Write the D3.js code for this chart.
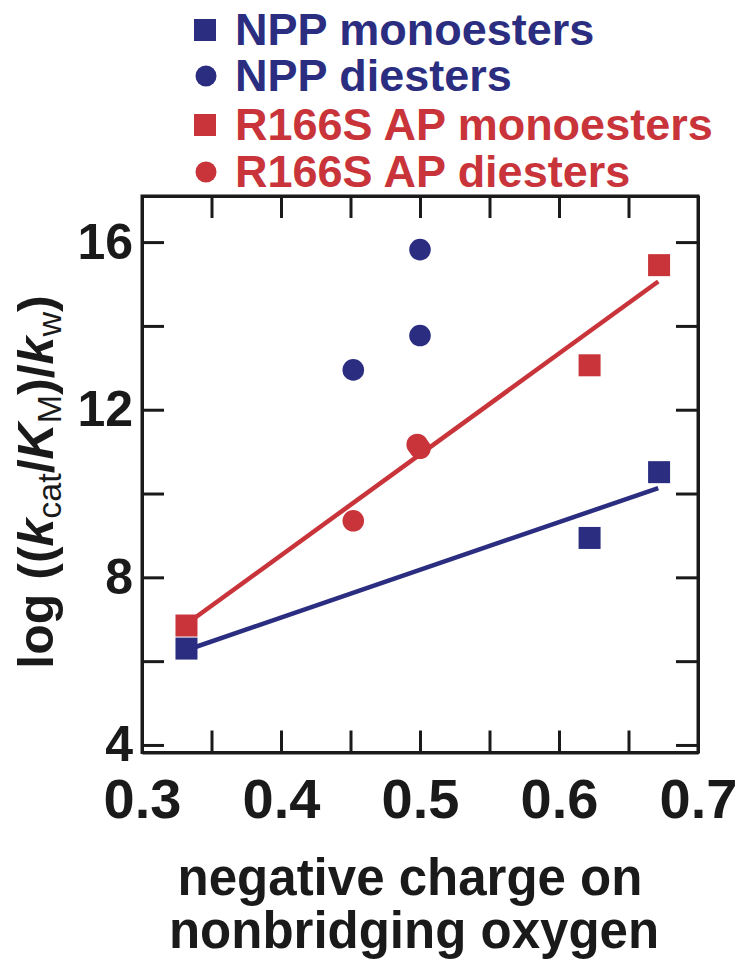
<!DOCTYPE html>
<html>
<head>
<meta charset="utf-8">
<script src="https://cdn.jsdelivr.net/npm/d3@7"></script>
<style>
  html, body { margin: 0; padding: 0; background: #fff; }
  svg { display: block; font-family: "Liberation Sans", Arial, Helvetica, sans-serif; }
</style>
</head>
<body>
<svg id="chart" width="750" height="966"></svg>
<script>
// ---- data ----
const nppMonoX = [0.332, 0.622, 0.672];
const nppMonoY = [6.30, 8.94, 10.51];
const nppDiX = [0.452, 0.5, 0.5];
const nppDiY = [12.95, 13.77, 15.82];
const apMonoX = [0.332, 0.622, 0.672];
const apMonoY = [6.85, 13.06, 15.45];
const apDiX = [0.452, 0.5, 0.498];
const apDiY = [9.35, 11.08, 11.17];
const fitX = [0.3317, 0.6714];
const nppFitY = [6.26, 10.13];
const apFitY = [6.88, 15.06];
const xTicks = [0.3, 0.35, 0.4, 0.45, 0.5, 0.55, 0.6, 0.65, 0.7];
const xLabels = ["0.3", "", "0.4", "", "0.5", "", "0.6", "", "0.7"];
const yTicks = [4, 6, 8, 10, 12, 14, 16];
const yLabels = ["4", "", "8", "", "12", "", "16"];
const legendNames = ["NPP monoesters", "NPP diesters", "R166S AP monoesters", "R166S AP diesters"];
const legendShapes = ["square", "circle", "square", "circle"];
const legendColors = ["blue", "blue", "red", "red"];

const COLORS = { blue: "#2b2e80", red: "#c8343a" };

const svg = d3.select("#chart");
const L = 142, R = 698, T = 196, B = 752.5;
const x = d3.scaleLinear().domain([0.3, 0.7]).range([L, R]);
const y = d3.scaleLinear().domain([3.82, 17.1]).range([B, T]);

const TICK = 22, AXW = 3;

function styleAxis(g) {
  g.selectAll(".domain").attr("stroke", "#1a1a1a").attr("stroke-width", AXW);
  g.selectAll(".tick line").attr("stroke", "#1a1a1a").attr("stroke-width", 3);
}

// bottom
const gB = svg.append("g").attr("transform", `translate(0,${B})`)
  .call(d3.axisBottom(x).tickValues(xTicks).tickSizeInner(-TICK).tickSizeOuter(0).tickPadding(26)
    .tickFormat((d, i) => xLabels[i]));
styleAxis(gB);
gB.selectAll(".tick text").attr("fill", "#1a1a1a").attr("font-size", 56).attr("font-weight", "bold")
  .attr("font-family", "Liberation Sans, Arial, sans-serif");
// top
const gT = svg.append("g").attr("transform", `translate(0,${T})`)
  .call(d3.axisTop(x).tickValues(xTicks).tickSizeInner(-TICK).tickSizeOuter(0).tickFormat(""));
styleAxis(gT);
// left
const gL = svg.append("g").attr("transform", `translate(${L},0)`)
  .call(d3.axisLeft(y).tickValues(yTicks).tickSizeInner(-TICK).tickSizeOuter(0).tickPadding(9)
    .tickFormat((d, i) => yLabels[i]));
styleAxis(gL);
gL.selectAll(".tick text").attr("fill", "#1a1a1a").attr("font-size", 50).attr("font-weight", "bold")
  .attr("font-family", "Liberation Sans, Arial, sans-serif");
// right
const gR = svg.append("g").attr("transform", `translate(${R},0)`)
  .call(d3.axisRight(y).tickValues(yTicks).tickSizeInner(-TICK).tickSizeOuter(0).tickFormat(""));
styleAxis(gR);
// closed box
svg.append("rect").attr("x", L).attr("y", T).attr("width", R - L).attr("height", B - T)
  .attr("fill", "none").attr("stroke", "#1a1a1a").attr("stroke-width", AXW);

// fit lines
const line = d3.line().x(d => x(d[0])).y(d => y(d[1]));
svg.append("path").datum(fitX.map((v, i) => [v, nppFitY[i]])).attr("d", line)
  .attr("stroke", COLORS.blue).attr("stroke-width", 4.5).attr("fill", "none");
svg.append("path").datum(fitX.map((v, i) => [v, apFitY[i]])).attr("d", line)
  .attr("stroke", COLORS.red).attr("stroke-width", 4.5).attr("fill", "none");

const SQ = 22, RAD = 10.8;
function squares(xs, ys, c) {
  svg.append("g").selectAll("rect").data(xs.map((v, i) => [v, ys[i]])).join("rect")
    .attr("x", d => x(d[0]) - SQ / 2).attr("y", d => y(d[1]) - SQ / 2)
    .attr("width", SQ).attr("height", SQ).attr("fill", c);
}
function circles(xs, ys, c) {
  svg.append("g").selectAll("circle").data(xs.map((v, i) => [v, ys[i]])).join("circle")
    .attr("cx", d => x(d[0])).attr("cy", d => y(d[1])).attr("r", RAD).attr("fill", c);
}
squares(nppMonoX, nppMonoY, COLORS.blue);
circles(nppDiX, nppDiY, COLORS.blue);
squares(apMonoX, apMonoY, COLORS.red);
circles(apDiX, apDiY, COLORS.red);

// legend
const legY = [30, 76, 125, 172];
const legend = svg.append("g");
legendNames.forEach((name, i) => {
  const c = COLORS[legendColors[i]];
  if (legendShapes[i] === "square") {
    legend.append("rect").attr("x", 205 - 11).attr("y", legY[i] - 11).attr("width", 22).attr("height", 22).attr("fill", c);
  } else {
    legend.append("circle").attr("cx", 206).attr("cy", legY[i]).attr("r", 10.5).attr("fill", c);
  }
  legend.append("text").attr("x", 235).attr("y", legY[i] + 15).attr("fill", c)
    .attr("font-size", 45).attr("font-weight", "bold").text(name);
});

// y axis title
const yt = svg.append("text").attr("transform", "translate(53,482) rotate(-90)")
  .attr("text-anchor", "middle").attr("font-size", 50).attr("font-weight", "bold").attr("fill", "#1a1a1a");
yt.append("tspan").text("log ((");
yt.append("tspan").attr("font-style", "italic").text("k");
yt.append("tspan").attr("font-size", 34).attr("font-weight", "normal").attr("dy", 8).text("cat");
yt.append("tspan").attr("dy", -8).text("/");
yt.append("tspan").attr("font-style", "italic").text("K");
yt.append("tspan").attr("font-size", 34).attr("font-weight", "normal").attr("dy", 8).text("M");
yt.append("tspan").attr("dy", -8).text(")/");
yt.append("tspan").attr("font-style", "italic").text("k");
yt.append("tspan").attr("font-size", 34).attr("font-weight", "normal").attr("dy", 8).text("w");
yt.append("tspan").attr("dy", -8).text(")");

// x axis title
svg.append("text").attr("text-anchor", "middle").attr("font-size", 51)
  .attr("font-weight", "bold").attr("fill", "#1a1a1a")
  .attr("x", 410).attr("y", 895).text("negative charge on");
svg.append("text").attr("text-anchor", "middle").attr("font-size", 51)
  .attr("font-weight", "bold").attr("fill", "#1a1a1a")
  .attr("x", 414).attr("y", 948).text("nonbridging oxygen");
</script>
</body>
</html>
